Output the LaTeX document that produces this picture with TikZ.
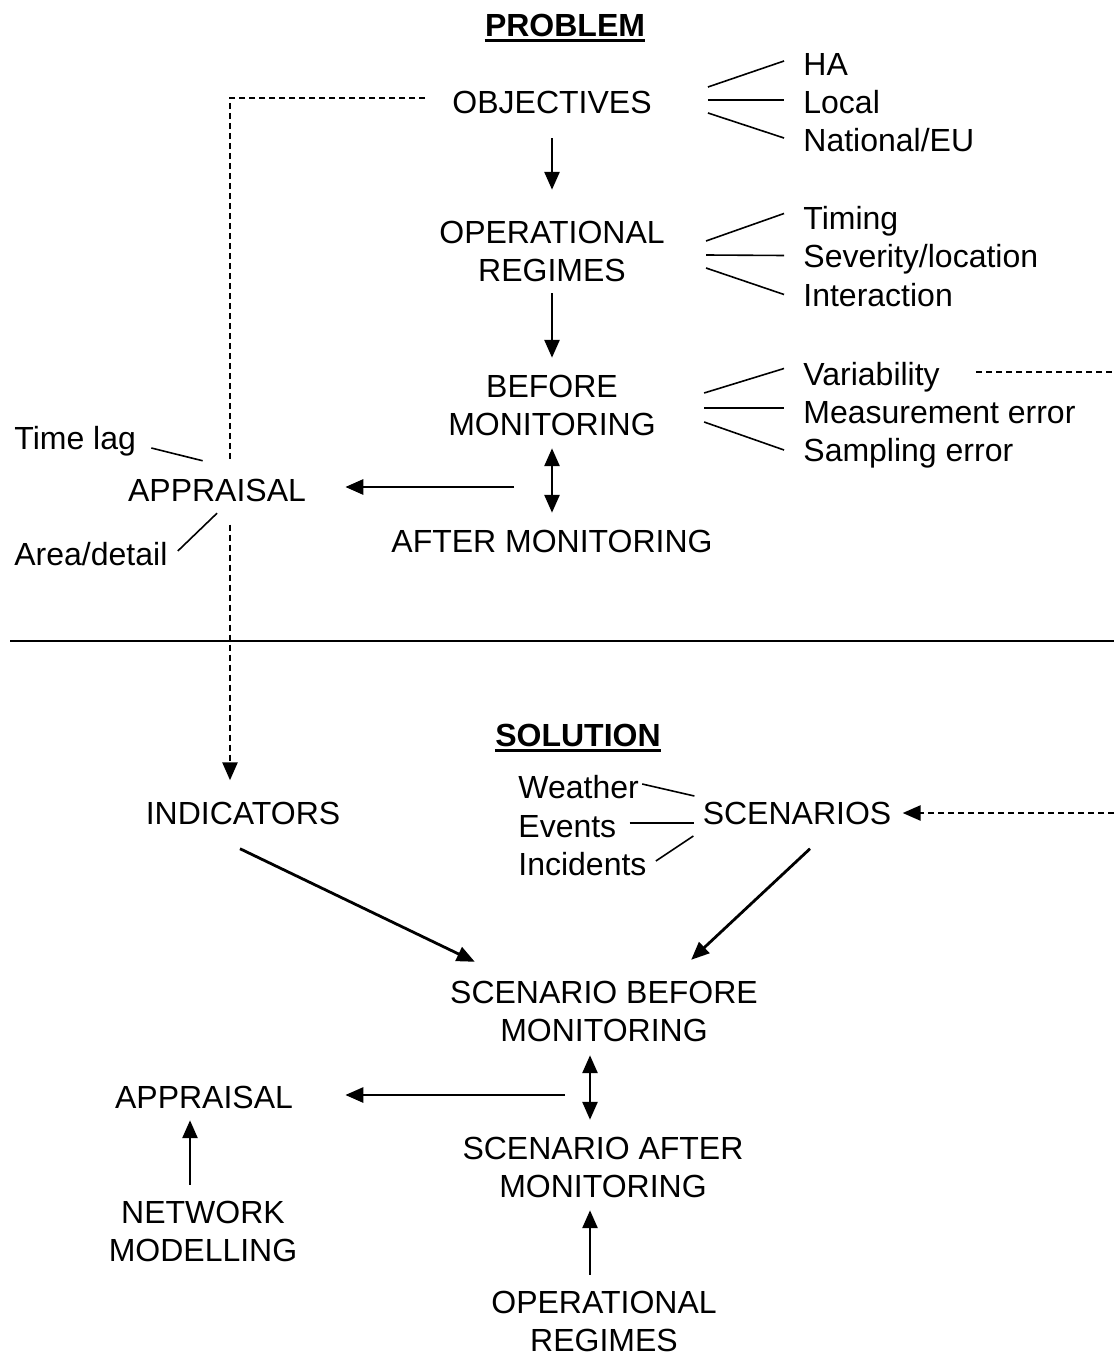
\documentclass[tikz,border=0pt]{standalone}
\usepackage{fontspec}
\setmainfont{Liberation Sans}
\usetikzlibrary{arrows.meta,calc}
\tikzset{
  txt/.style={inner sep=0pt, font=\fontsize{16}{19}\selectfont, align=center},
  lbl/.style={inner sep=0pt, font=\fontsize{16}{19}\selectfont, text height=11.5pt, text depth=3.5pt, anchor=base west},
  arr/.style={line width=1.4pt, -{Triangle[length=9pt,width=7.5pt]}},
  darr/.style={line width=1.4pt, {Triangle[length=9pt,width=7.5pt]}-{Triangle[length=9pt,width=7.5pt]}},
  darrow/.style={-{Triangle[length=9pt,width=7.5pt]}},
  tick/.style={line width=0.8pt},
  dashline/.style={line width=1.3pt, dash pattern=on 3pt off 2pt},
  uline/.style={line width=1.5pt},
}
\begin{document}
\begin{tikzpicture}[x=0.5pt,y=-0.5pt]
\fill[white] (0,0) rectangle (1114,1358);
\useasboundingbox (0,0) rectangle (1114,1358);

% ---------- PROBLEM ----------
\node[txt] (prob) at (565,25) {\bfseries PROBLEM};
\draw[uline] ($(prob.south west)+(0,3.5)$) -- ($(prob.south east)+(0,3.5)$);

\node[txt] (obj) at (552,102) {OBJECTIVES};
\node[lbl] (ha)  at (803,75.5)  {HA};
\node[lbl] (loc) at (803,113.5) {Local};
\node[lbl] (nat) at (803,151.5) {National/EU};
\draw[tick] ($(obj.east)+(56,-15)$) -- ($(ha.west)+(-19,-6.5)$);
\draw[tick] ($(obj.east)+(56,-2)$)  -- ($(loc.west)+(-19,-5.5)$);
\draw[tick] ($(obj.east)+(56,11)$)  -- ($(nat.west)+(-19,-5.5)$);

\node[txt] (op) at (552,251) {OPERATIONAL\\REGIMES};
\node[lbl] (tim) at (803,229.5) {Timing};
\node[lbl] (sev) at (803,267.5) {Severity/location};
\node[lbl] (int) at (803,306.5) {Interaction};
\draw[tick] ($(op.east)+(41,-10)$) -- ($(tim.west)+(-19,-8)$);
\draw[tick] ($(op.east)+(41,4)$)   -- ($(sev.west)+(-19,-4)$);
\draw[tick] ($(op.east)+(41,17)$)  -- ($(int.west)+(-19,-4)$);

\node[txt] (bm) at (552,405) {BEFORE\\MONITORING};
\node[lbl] (var)  at (803,385.5) {Variability};
\node[lbl] (meas) at (803,423.5) {Measurement error};
\node[lbl] (samp) at (803,461.5) {Sampling error};
\draw[tick] ($(bm.east)+(48,-12)$) -- ($(var.west)+(-19,-9)$);
\draw[tick] ($(bm.east)+(48,3)$)   -- ($(meas.west)+(-19,-7.5)$);
\draw[tick] ($(bm.east)+(48,17)$)  -- ($(samp.west)+(-19,-3.5)$);
\coordinate (e1) at (1114,372);
\draw[dashline] ($(var.east)+(36,-5.5)$) -- (e1);

\node[txt] (am) at (552,541) {AFTER MONITORING};

\draw[arr, shorten <=12.25pt, shorten >=15.25pt] (obj.south) -- (op.north);
\draw[arr, shorten <=5.75pt, shorten >=8.25pt] (op.south) -- (bm.north);
\draw[darr, shorten <=6.25pt, shorten >=8.25pt] (bm.south) -- (am.north);

\node[txt] (appr) at (217,490) {APPRAISAL};
\coordinate (j1) at (514,487);
\draw[arr, shorten >=19.5pt] (j1) -- (appr.east |- j1);

\node[lbl] (tl) at (14,449.5) {Time lag};
\node[lbl] (ad) at (14,565.5) {Area/detail};
\draw[tick] ($(tl.east)+(15,6.5)$) -- ($(appr.north west)+(75,-17.5)$);
\draw[tick] ($(ad.east)+(10,-6.5)$) -- ($(appr.south)+(0,11.5)$);

\coordinate (c1) at (230,98);
\draw[dashline] ($(obj.west)+(-27,-4)$) -- (c1) -- ($(c1 |- appr.north)+(0,-17)$);

% separator
\coordinate (r1) at (10,641);
\coordinate (r2) at (1114,641);
\draw[line width=1pt] (r1) -- (r2);

% ---------- SOLUTION ----------
\node[txt] (sol) at (578,735) {\bfseries SOLUTION};
\draw[uline] ($(sol.south west)+(0,3.5)$) -- ($(sol.south east)+(0,3.5)$);

\node[txt] (ind) at (243,813) {INDICATORS};
\node[txt] (scen) at (797,813) {SCENARIOS};
\node[lbl] (wea) at (518,798.5) {Weather};
\node[lbl] (evt) at (518,837.5) {Events};
\node[lbl] (inc) at (518,875.5) {Incidents};
\draw[tick] ($(wea.east)+(3,-6.5)$)  -- ($(scen.west)+(-8,-17)$);
\draw[tick] ($(evt.east)+(13,-6.5)$) -- ($(scen.west)+(-8,10)$);
\draw[tick] ($(inc.east)+(9,-6.5)$)  -- ($(scen.west)+(-9,23)$);

\draw[dashline, darrow, shorten <=11.5pt, shorten >=10.5pt] (c1 |- appr.south) -- (c1 |- ind.north);

\coordinate (e2) at (1114,813);
\draw[dashline, darrow, shorten >=5.5pt] (e2) -- (scen.east);

\node[txt] (sbm) at (604,1011.5) {SCENARIO BEFORE\\MONITORING};
\draw[arr] ($(ind.south)+(-3,24)$) -- ($(sbm.north west)+(25,-19)$);
\draw[arr] ($(scen.south)+(13,24)$) -- ($(sbm.north east)+(-67,-21)$);

\node[txt] (sam) at (603,1167.5) {SCENARIO AFTER\\MONITORING};
\draw[darr, shorten <=6.5pt, shorten >=8.5pt] ($(sbm.south)+(-14,0)$) -- ($(sam.north)+(-13,0)$);

\node[txt] (appr2) at (204,1097) {APPRAISAL};
\coordinate (j2) at (565,1095);
\draw[arr, shorten >=26pt] (j2) -- (appr2.east |- j2);

\node[txt] (nm) at (203,1231.5) {NETWORK\\MODELLING};
\draw[arr, shorten <=8pt, shorten >=5.75pt] ($(nm.north)+(-13,0)$) -- ($(appr2.south)+(-14,0)$);

\node[txt] (or2) at (604,1321.5) {OPERATIONAL\\REGIMES};
\draw[arr, shorten <=8pt, shorten >=6pt] ($(or2.north)+(-14,0)$) -- ($(sam.south)+(-13,0)$);
\end{tikzpicture}
\end{document}
